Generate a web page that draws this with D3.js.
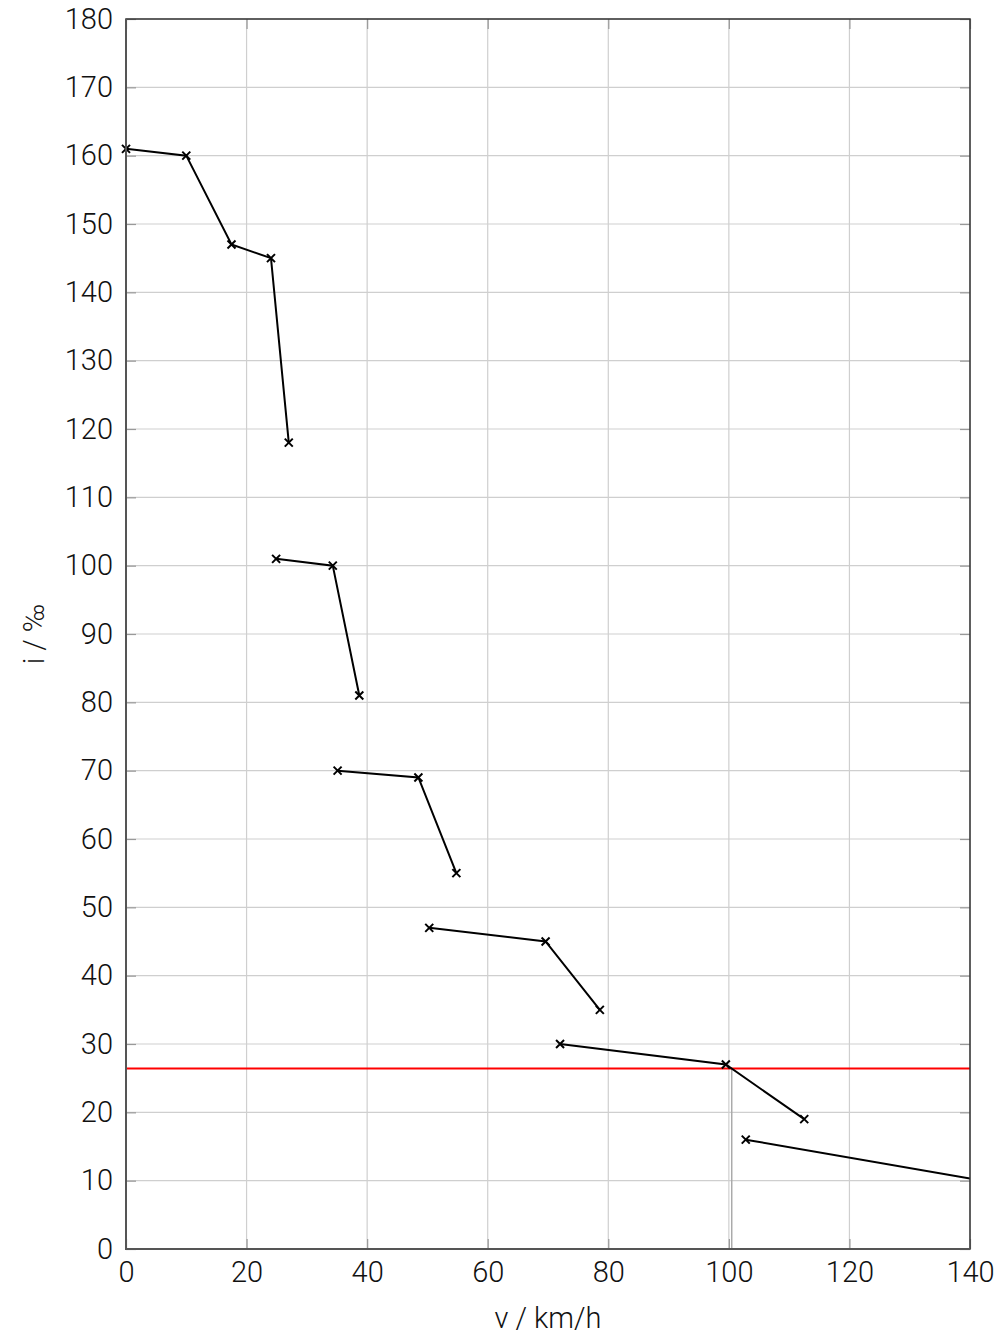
<!DOCTYPE html>
<html><head><meta charset="utf-8">
<script src="https://cdn.jsdelivr.net/npm/d3@7"></script>
<style>body{margin:0;background:#fff}svg{display:block}text{font-family:Roboto,"Noto Sans",sans-serif;font-weight:300;fill:#111}</style>
</head><body><svg id="c" width="1003" height="1335"></svg>
<script>
// speed v (km/h) and gradient i (‰) for each gear segment
const seg1V = [0, 10, 17.5, 24.05, 27.0];
const seg1I = [161, 160, 147, 145, 118];
const seg2V = [24.9, 34.3, 38.7];
const seg2I = [101, 100, 81];
const seg3V = [35.1, 48.5, 54.8];
const seg3I = [70, 69, 55];
const seg4V = [50.3, 69.6, 78.6];
const seg4I = [47, 45, 35];
const seg5V = [72.0, 99.5, 112.5];
const seg5I = [30, 27, 19];
const seg6V = [102.8, 140];
const seg6I = [16, 10.3];
const limitI = 26.4;
const xTicks = [0, 20, 40, 60, 80, 100, 120, 140];
const yTicks = [0,10,20,30,40,50,60,70,80,90,100,110,120,130,140,150,160,170,180];

const svg = d3.select("#c");
const L = 126, R = 970, T = 19, B = 1249;
const x = d3.scaleLinear().domain([0, 140]).range([L, R]);
const y = d3.scaleLinear().domain([0, 180]).range([B, T]);
const FS = 29;

// grid
svg.append("g").selectAll("line").data(xTicks).join("line")
  .attr("x1", d => x(d)).attr("x2", d => x(d)).attr("y1", T).attr("y2", B)
  .attr("stroke", "#cfcfcf").attr("stroke-width", 1.2);
svg.append("g").selectAll("line").data(yTicks).join("line")
  .attr("x1", L).attr("x2", R).attr("y1", d => y(d)).attr("y2", d => y(d))
  .attr("stroke", "#cfcfcf").attr("stroke-width", 1.2);

// axes with inward ticks
svg.append("g").attr("transform", `translate(0,${B})`)
  .call(d3.axisBottom(x).tickValues(xTicks).tickSize(-10).tickPadding(12));
svg.append("g").attr("transform", `translate(${L},0)`)
  .call(d3.axisLeft(y).tickValues(yTicks).tickSize(-10).tickPadding(13));
svg.append("g").attr("transform", `translate(${R},0)`)
  .call(d3.axisRight(y).tickValues(yTicks).tickSize(-10).tickFormat(""));
svg.append("g").attr("transform", `translate(0,${T})`)
  .call(d3.axisTop(x).tickValues(xTicks).tickSize(-10).tickFormat(""));
svg.selectAll(".domain").remove();
svg.selectAll(".tick line").attr("stroke", "#999").attr("stroke-width", 1.2);
svg.selectAll(".tick text").attr("font-size", FS).attr("fill", "#111")
  .style("font-family", 'Roboto,"Noto Sans",sans-serif').style("font-weight", 300);

// clip
svg.append("clipPath").attr("id", "clip").append("rect")
  .attr("x", L).attr("y", T).attr("width", R - L).attr("height", B - T);

const segs = [[seg1V, seg1I], [seg2V, seg2I], [seg3V, seg3I], [seg4V, seg4I], [seg5V, seg5I], [seg6V, seg6I]];
const line = d3.line().x(d => x(d[0])).y(d => y(d[1]));
const plot = svg.append("g").attr("clip-path", "url(#clip)");

// drop line where segment 5 crosses limit
const a = seg5V[1], b = seg5V[2], ia = seg5I[1], ib = seg5I[2];
const vx = a + (ia - limitI) / (ia - ib) * (b - a);
plot.append("line").attr("x1", x(vx)).attr("x2", x(vx)).attr("y1", y(limitI)).attr("y2", y(0))
  .attr("stroke", "#aaa").attr("stroke-width", 1.5);

plot.append("line").attr("x1", x(0)).attr("x2", x(140)).attr("y1", y(limitI)).attr("y2", y(limitI))
  .attr("stroke", "#ff0000").attr("stroke-width", 2);

segs.forEach(([vs, is]) => {
  const pts = vs.map((v, k) => [v, is[k]]);
  plot.append("path").datum(pts).attr("d", line).attr("fill", "none")
    .attr("stroke", "#000").attr("stroke-width", 2);
});
const s = 4;
segs.forEach(([vs, is]) => {
  vs.forEach((v, k) => {
    if (v >= 140) return;
    const cx = x(v), cy = y(is[k]);
    svg.append("path").attr("d", `M${cx - s},${cy - s}L${cx + s},${cy + s}M${cx - s},${cy + s}L${cx + s},${cy - s}`)
      .attr("stroke", "#000").attr("stroke-width", 2);
  });
});

// frame
svg.append("rect").attr("x", L).attr("y", T).attr("width", R - L).attr("height", B - T)
  .attr("fill", "none").attr("stroke", "#333").attr("stroke-width", 1.5);
svg.append("path").attr("d", `M${L},${T}V${B}H${R}`).attr("fill", "none")
  .attr("stroke", "#555").attr("stroke-width", 2);

// labels
svg.append("text").attr("x", (L + R) / 2).attr("y", 1328).attr("text-anchor", "middle")
  .attr("font-size", FS).text("v / km/h");
svg.append("text").attr("transform", `translate(44,${(T + B) / 2}) rotate(-90)`)
  .attr("text-anchor", "middle").attr("font-size", FS).text("i / ‰");
</script></body></html>
